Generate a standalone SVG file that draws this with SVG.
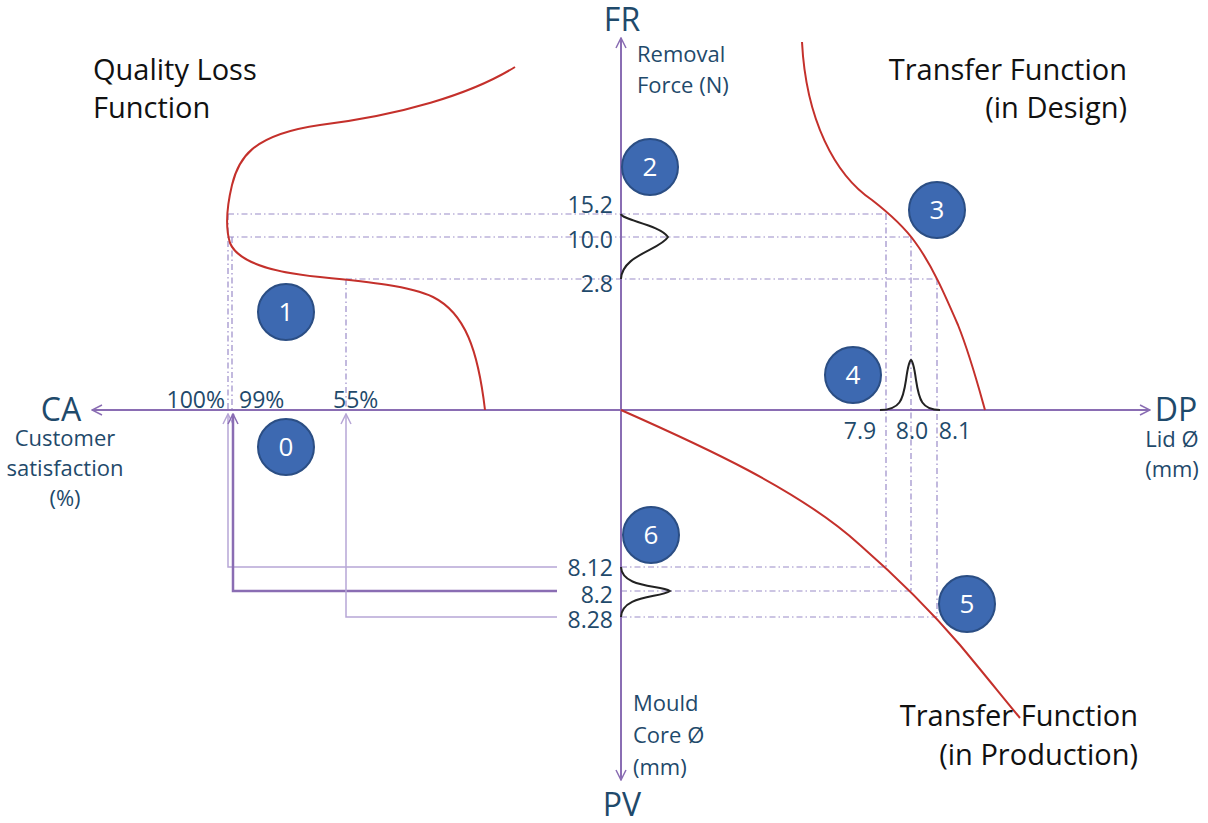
<svg xmlns="http://www.w3.org/2000/svg" width="1208" height="823" viewBox="0 0 1208 823">
<style>
text{font-family:"Open Sans","Liberation Sans",sans-serif;fill:#1f4a6b}
.big{font-size:32px}
.title{font-size:29px;fill:#111}
.lab{font-size:22px}
.num{font-size:23px}
.ax{stroke:#8a6db3;stroke-width:2;fill:none}
.dot{stroke:#9a8bc8;stroke-width:1.2;stroke-dasharray:6 3 1.5 3;fill:none}
.red{stroke:#c4302b;stroke-width:2;fill:none}
.gauss{stroke:#222;stroke-width:2;fill:none}
.ln{stroke:#b7a6d6;stroke-width:1.5;fill:none}
.ln2{stroke:#8a6db3;stroke-width:2.5;fill:none}
.circ{fill:#3d69b1;stroke:#2b4e84;stroke-width:2}
.ct{font-size:26px;fill:#fff;text-anchor:middle}
</style>
<defs>
<marker id="chev" viewBox="0 0 12 12" refX="11" refY="6" markerWidth="12" markerHeight="12" markerUnits="userSpaceOnUse" orient="auto">
<path d="M1,1 L11,6 L1,11" fill="none" stroke="#8a6db3" stroke-width="1.5"/>
</marker>
<marker id="chevL" viewBox="0 0 12 12" refX="11" refY="6" markerWidth="12" markerHeight="12" markerUnits="userSpaceOnUse" orient="auto">
<path d="M1,1 L11,6 L1,11" fill="none" stroke="#b7a6d6" stroke-width="1.5"/>
</marker>
</defs>

<g id="guides">
<path class="dot" d="M228,214 H888 M228,237 H912 M346,279 H937"/>
<path class="dot" d="M228,214 V410 M232,237 V410 M346,279 V410"/>
<path class="dot" d="M886,214 V567 M911,237 V591 M937,279 V617"/>
<path class="dot" d="M621,567 H886 M621,591 H911 M621,617 H937"/>
</g>

<g id="connectors">
<line class="ax" x1="621" y1="410" x2="92" y2="410" marker-end="url(#chev)"/>
<line class="ax" x1="621" y1="410" x2="1150" y2="410" marker-end="url(#chev)"/>
<line class="ax" x1="621" y1="410" x2="621" y2="38" marker-end="url(#chev)"/>
<line class="ax" x1="621" y1="410" x2="621" y2="780" marker-end="url(#chev)"/>
<path class="ln" d="M557,567 H228 V414" marker-end="url(#chevL)"/>
<path class="ln2" d="M557,591 H233 V414" marker-end="url(#chev)"/>
<path class="ln" d="M557,617 H346 V414" marker-end="url(#chevL)"/>
</g>

<g id="curves">
<path class="red" d="M515,67 C470,95 400,115 320,125 C250,135 238,160 232,185 C226,210 226,230 230,243 C238,262 270,272 320,277 C370,282 410,286 433,297 C465,313 478,350 485,410"/>
<path class="red" d="M802,42 C806,120 835,175 872,200 C890,214 905,228 915,242 C932,265 945,295 958,325 C970,355 978,385 985,410"/>
<path class="red" d="M621,410 C700,445 800,490 860,545 C900,580 930,610 960,645 C985,675 1005,700 1020,718"/>
</g>

<g id="gaussians">
<path class="gauss" d="M621,279 C622,255 660,250 668,237 C660,225 622,220 621,214"/>
<path class="gauss" d="M880,410 C900,410 903,400 906,380 C908,365 910,360 911,360 C912,360 914,365 916,380 C919,400 922,410 940,410"/>
<path class="gauss" d="M621,617 C622,595 660,598 670,591 C660,585 622,588 621,567"/>
</g>

<g id="axis-labels">
<text class="big" x="622" y="31" text-anchor="middle">FR</text>
<text class="big" x="622" y="816" text-anchor="middle">PV</text>
<text class="big" x="61" y="421" text-anchor="middle">CA</text>
<text class="big" x="1176" y="421" text-anchor="middle">DP</text>
<text class="lab" x="637" y="62">Removal</text>
<text class="lab" x="637" y="93">Force (N)</text>
<text class="lab" x="65" y="446" text-anchor="middle">Customer</text>
<text class="lab" x="65" y="476" text-anchor="middle">satisfaction</text>
<text class="lab" x="65" y="506" text-anchor="middle">(%)</text>
<text class="lab" x="1172" y="447" text-anchor="middle">Lid Ø</text>
<text class="lab" x="1172" y="477" text-anchor="middle">(mm)</text>
<text class="lab" x="633" y="711">Mould</text>
<text class="lab" x="633" y="743">Core Ø</text>
<text class="lab" x="633" y="775">(mm)</text>
</g>

<g id="titles">
<text class="title" x="93" y="80">Quality Loss</text>
<text class="title" x="93" y="118">Function</text>
<text class="title" x="1127" y="80" text-anchor="end">Transfer Function</text>
<text class="title" x="1127" y="118" text-anchor="end">(in Design)</text>
<text class="title" x="1138" y="726" text-anchor="end">Transfer Function</text>
<text class="title" x="1138" y="765" text-anchor="end">(in Production)</text>
</g>

<g id="values">
<text class="num" x="613" y="213" text-anchor="end">15.2</text>
<text class="num" x="613" y="248" text-anchor="end">10.0</text>
<text class="num" x="613" y="292" text-anchor="end">2.8</text>
<text class="num" x="613" y="576" text-anchor="end">8.12</text>
<text class="num" x="613" y="603" text-anchor="end">8.2</text>
<text class="num" x="613" y="628" text-anchor="end">8.28</text>
<text class="num" x="225" y="408" text-anchor="end">100%</text>
<text class="num" x="239" y="408">99%</text>
<text class="num" x="333" y="408">55%</text>
<text class="num" x="860" y="439" text-anchor="middle">7.9</text>
<text class="num" x="912" y="439" text-anchor="middle">8.0</text>
<text class="num" x="955" y="439" text-anchor="middle">8.1</text>
</g>

<g id="step-0"><circle class="circ" cx="286" cy="447" r="28"/><text class="ct" x="286" y="456">0</text></g>
<g id="step-1"><circle class="circ" cx="286" cy="312" r="28"/><text class="ct" x="286" y="321">1</text></g>
<g id="step-2"><circle class="circ" cx="650" cy="167" r="28"/><text class="ct" x="650" y="176">2</text></g>
<g id="step-3"><circle class="circ" cx="937" cy="210" r="28"/><text class="ct" x="937" y="219">3</text></g>
<g id="step-4"><circle class="circ" cx="853" cy="375" r="28"/><text class="ct" x="853" y="384">4</text></g>
<g id="step-5"><circle class="circ" cx="967" cy="604" r="28"/><text class="ct" x="967" y="613">5</text></g>
<g id="step-6"><circle class="circ" cx="651" cy="535" r="28"/><text class="ct" x="651" y="544">6</text></g>
</svg>
